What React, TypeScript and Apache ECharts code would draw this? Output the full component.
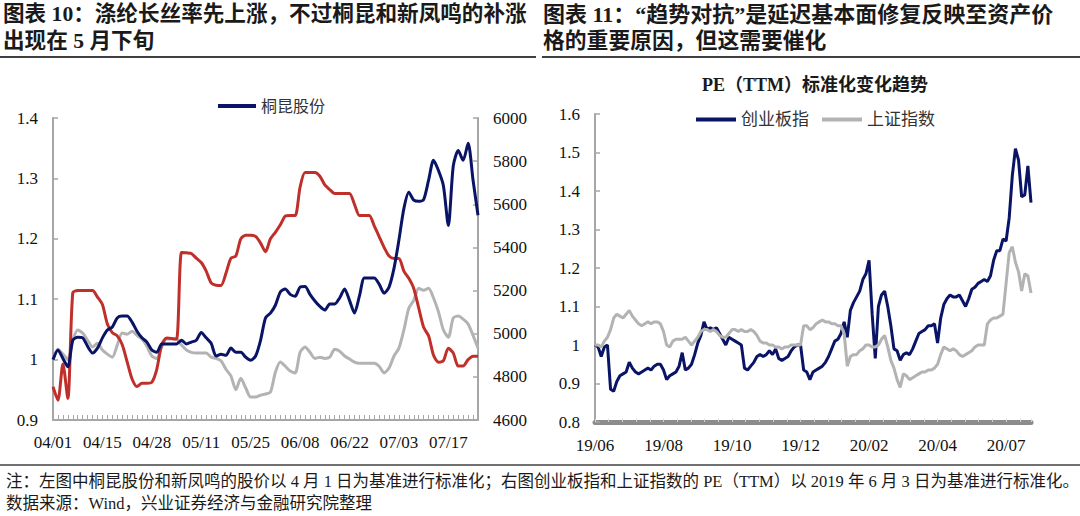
import React, { useEffect, useRef } from 'react';
import * as echarts from 'echarts';

// ---------- Left chart data (normalised to 04/01; polyester price on right axis) ----------
const leftXLabels = ['04/01', '04/15', '04/28', '05/11', '05/25', '06/08', '06/22', '07/03', '07/17'];

const tongkun = [
  1.000, 1.016, 1.002, 0.988, 1.032, 1.037, 1.036, 1.022, 1.011, 1.019,
  1.036, 1.049, 1.054, 1.069, 1.072, 1.072, 1.062, 1.047, 1.036, 1.029,
  1.016, 1.012, 1.026, 1.026, 1.026, 1.026, 1.032, 1.026, 1.029, 1.032,
  1.045, 1.036, 1.027, 1.006, 1.009, 1.007, 1.019, 1.012, 1.012, 1.004,
  0.999, 1.006, 1.032, 1.069, 1.077, 1.090, 1.112, 1.117, 1.108, 1.105,
  1.120, 1.121, 1.108, 1.097, 1.088, 1.082, 1.092, 1.092, 1.102, 1.117,
  1.098, 1.077, 1.105, 1.135, 1.135, 1.135, 1.125, 1.110, 1.120, 1.151,
  1.198, 1.250, 1.277, 1.264, 1.262, 1.265, 1.297, 1.330, 1.313, 1.288,
  1.222, 1.321, 1.346, 1.330, 1.358, 1.297, 1.239,
];

const xinfengming = [
  1.000, 1.017, 1.009, 1.000, 1.032, 1.049, 1.044, 1.032, 1.021, 1.027,
  1.016, 1.009, 1.004, 1.024, 1.044, 1.042, 1.047, 1.040, 1.034, 1.022,
  1.006, 1.002, 1.021, 1.034, 1.034, 1.034, 1.024, 1.016, 1.012, 1.011,
  1.011, 1.011, 1.004, 1.002, 0.998, 0.984, 0.973, 0.950, 0.969, 0.953,
  0.938, 0.938, 0.941, 0.943, 0.946, 0.979, 0.996, 0.989, 0.981, 0.978,
  1.012, 1.021, 1.012, 1.002, 1.004, 1.002, 1.004, 1.017, 1.014, 1.006,
  1.001, 0.996, 0.994, 0.994, 0.994, 0.994, 0.989, 0.978, 0.986, 1.006,
  1.019, 1.049, 1.085, 1.098, 1.118, 1.115, 1.118, 1.102, 1.079, 1.049,
  1.037, 1.069, 1.072, 1.067, 1.059, 1.040, 1.019,
];

const polyesterPrice = [
  4754, 4692, 4860, 4700, 5190, 5200, 5200, 5200, 5200, 5170,
  5135, 5045, 5005, 4990, 4950, 4870, 4790, 4755, 4770, 4770,
  4775, 4835, 4950, 4980, 4978, 4975, 5377, 5375, 5372, 5350,
  5330, 5290, 5236, 5225, 5224, 5280, 5350, 5360, 5440, 5456,
  5456, 5451, 5420, 5380, 5440, 5470, 5505, 5545, 5548, 5548,
  5680, 5747, 5747, 5747, 5730, 5690, 5668, 5650, 5650, 5650,
  5650, 5600, 5548, 5548, 5548, 5500, 5450, 5400, 5360, 5349,
  5349, 5290, 5257, 5210, 5120, 5030, 4990, 4900, 4868, 4875,
  4933, 4910, 4850, 4850, 4880, 4896, 4896,
];

// ---------- Right chart data (PE TTM normalised to 2019-06-03) ----------
const rightXLabels = ['19/06', '19/08', '19/10', '19/12', '20/02', '20/04', '20/07'];

const chinextPE = [
  1.00, 0.995, 0.97, 0.995, 1.0, 0.885, 0.88, 0.905, 0.92, 0.925,
  0.93, 0.955, 0.94, 0.93, 0.925, 0.93, 0.935, 0.94, 0.935, 0.945,
  0.95, 0.95, 0.935, 0.91, 0.92, 0.925, 0.93, 0.945, 0.98, 0.935,
  0.94, 0.95, 0.975, 1.005, 1.025, 1.06, 1.04, 1.045, 1.04, 1.045,
  1.03, 1.015, 1.0, 1.02, 1.015, 1.01, 1.005, 1.0, 0.94, 0.935,
  0.945, 0.955, 0.97, 0.975, 0.97, 0.975, 0.985, 0.975, 0.99, 0.965,
  0.96, 0.965, 0.97, 0.985, 0.995, 1.0, 1.0, 0.935, 0.93, 0.91,
  0.93, 0.935, 0.94, 0.945, 0.955, 0.97, 0.99, 1.01, 1.015, 1.03,
  1.06, 1.02, 1.09, 1.11, 1.125, 1.14, 1.17, 1.185, 1.22, 1.08,
  0.965, 1.10, 1.13, 1.14, 1.10, 1.05, 0.99, 0.985, 0.96, 0.975,
  0.98, 0.975, 0.99, 1.01, 1.03, 1.035, 1.04, 1.05, 1.05, 1.055,
  1.005, 1.07, 1.105, 1.12, 1.13, 1.125, 1.125, 1.13, 1.115, 1.10,
  1.12, 1.145, 1.15, 1.16, 1.165, 1.17, 1.165, 1.18, 1.22, 1.245,
  1.245, 1.275, 1.27, 1.33, 1.44, 1.51, 1.48, 1.385, 1.39, 1.465,
  1.37,
];

const ssePE = [
  1.0, 1.0, 0.995, 1.01, 1.02, 1.04, 1.07, 1.08, 1.075, 1.07,
  1.08, 1.09, 1.075, 1.065, 1.055, 1.05, 1.055, 1.06, 1.055, 1.06,
  1.06, 1.055, 1.035, 1.0, 0.995, 1.01, 1.015, 1.015, 1.015, 1.02,
  1.01, 1.0, 1.01, 1.02, 1.035, 1.04, 1.04, 1.035, 1.04, 1.035,
  1.025, 1.02, 1.02, 1.03, 1.04, 1.04, 1.035, 1.04, 1.035, 1.035,
  1.04, 1.035, 1.025, 1.01, 1.005, 1.005, 1.0, 1.0, 0.995, 0.995,
  0.99, 0.995, 0.995, 1.0, 1.0, 1.0, 1.0, 1.05, 1.05, 1.04,
  1.045, 1.055, 1.06, 1.065, 1.06, 1.06, 1.055, 1.055, 1.05, 1.05,
  1.03, 0.945, 0.97, 0.975, 0.975, 0.985, 0.99, 1.0, 1.0, 0.995,
  0.995, 1.0, 1.015, 1.025, 0.995, 0.96, 0.94, 0.91, 0.89, 0.925,
  0.92, 0.91, 0.915, 0.92, 0.925, 0.93, 0.93, 0.935, 0.935, 0.94,
  0.95, 0.975, 0.995, 0.99, 0.985, 0.99, 0.985, 0.975, 0.97, 0.975,
  0.98, 0.985, 0.995, 1.0, 1.0, 1.0, 1.055, 1.065, 1.07, 1.07,
  1.075, 1.08, 1.16, 1.24, 1.255, 1.215, 1.19, 1.14, 1.185, 1.18,
  1.135,
];

// ---------- Texts ----------
const leftTitle = ['图表 10：涤纶长丝率先上涨，不过桐昆和新凤鸣的补涨', '出现在 5 月下旬'];
const rightTitle = ['图表 11：“趋势对抗”是延迟基本面修复反映至资产价', '格的重要原因，但这需要催化'];
const rightSubtitle = 'PE（TTM）标准化变化趋势';
const noteLines = [
  '注：左图中桐昆股份和新凤鸣的股价以 4 月 1 日为基准进行标准化；右图创业板指和上证指数的 PE（TTM）以 2019 年 6 月 3 日为基准进行标准化。',
  '数据来源：Wind，兴业证券经济与金融研究院整理',
];

const FONT = "'Times New Roman', 'Liberation Serif', 'Noto Sans CJK SC', serif";
const AXIS_GRAY = '#a6a6a6';
const NAVY = '#0a1466';
const RED = '#c0302a';
const GRAY = '#b3b3b3';

const labelStyle = { fontSize: 17, color: '#111', fontFamily: FONT };

export default function App() {
  const ref = useRef<HTMLDivElement>(null);

  useEffect(() => {
    if (!ref.current) return;
    const chart = echarts.init(ref.current, undefined, { renderer: 'svg' });

    const yAxisCommon = (gridIndex: number, min: number, max: number, interval: number, position: string) => ({
      type: 'value',
      gridIndex,
      min,
      max,
      interval,
      position,
      axisLine: { show: true, lineStyle: { color: AXIS_GRAY, width: 2 } },
      axisTick: { show: true, inside: true, length: 5, lineStyle: { color: AXIS_GRAY, width: 1.5 } },
      splitLine: { show: false },
      axisLabel: { ...labelStyle, margin: 15, formatter: (v: number) => String(Math.round(v * 1000) / 1000) },
    });

    chart.setOption({
      animation: false,
      grid: [
        { left: 53, top: 118, width: 425, height: 302 },
        { left: 595, top: 114, width: 436, height: 308 },
      ],
      legend: [
        {
          data: ['桐昆股份'],
          left: 213,
          top: 93,
          icon: 'rect',
          itemWidth: 38,
          itemHeight: 4,
          textStyle: { fontSize: 16, color: '#333', fontFamily: FONT },
        },
        {
          data: ['创业板指', '上证指数'],
          left: 691,
          top: 106,
          icon: 'rect',
          itemWidth: 40,
          itemHeight: 4,
          itemGap: 13,
          textStyle: { fontSize: 17, color: '#333', fontFamily: FONT },
        },
      ],
      xAxis: [
        {
          type: 'value',
          gridIndex: 0,
          min: 0,
          max: tongkun.length - 1,
          interval: 10,
          axisLine: { lineStyle: { color: AXIS_GRAY, width: 2 } },
          axisTick: { show: true, inside: true, length: 5, lineStyle: { color: AXIS_GRAY, width: 1 } },
          minorTick: { show: true, splitNumber: 10, length: 5, lineStyle: { color: AXIS_GRAY, width: 1 } },
          splitLine: { show: false },
          axisLabel: {
            ...labelStyle,
            margin: 14,
            showMaxLabel: false,
            formatter: (v: number) => (v % 10 === 0 ? leftXLabels[v / 10] ?? '' : ''),
          },
        },
        {
          type: 'value',
          gridIndex: 1,
          min: 0,
          max: chinextPE.length - 1,
          interval: 22,
          axisLine: { lineStyle: { color: '#8c8c8c', width: 5 } },
          axisTick: { show: true, inside: true, length: 3, lineStyle: { color: '#d4d4d4', width: 1 } },
          minorTick: { show: true, splitNumber: 5, length: 3, lineStyle: { color: '#d4d4d4', width: 1 } },
          splitLine: { show: false },
          axisLabel: {
            ...labelStyle,
            margin: 15,
            showMaxLabel: false,
            formatter: (v: number) => (v % 22 === 0 ? rightXLabels[v / 22] ?? '' : ''),
          },
        },
      ],
      yAxis: [
        yAxisCommon(0, 0.9, 1.4, 0.1, 'left'),
        yAxisCommon(0, 4600, 6000, 200, 'right'),
        yAxisCommon(1, 0.8, 1.6, 0.1, 'left'),
      ],
      series: [
        {
          type: 'line', name: '新凤鸣', xAxisIndex: 0, yAxisIndex: 0,
          data: xinfengming.map((v, i) => [i, v]), symbol: 'none', smooth: 0.25,
          lineStyle: { color: GRAY, width: 3 }, itemStyle: { color: GRAY },
        },
        {
          type: 'line', name: '涤纶长丝', xAxisIndex: 0, yAxisIndex: 1,
          data: polyesterPrice.map((v, i) => [i, v]), symbol: 'none', smooth: 0.25,
          lineStyle: { color: RED, width: 3 }, itemStyle: { color: RED },
        },
        {
          type: 'line', name: '桐昆股份', xAxisIndex: 0, yAxisIndex: 0,
          data: tongkun.map((v, i) => [i, v]), symbol: 'none', smooth: 0.25,
          lineStyle: { color: NAVY, width: 3 }, itemStyle: { color: NAVY },
        },
        {
          type: 'line', name: '创业板指', xAxisIndex: 1, yAxisIndex: 2,
          data: chinextPE.map((v, i) => [i, v]), symbol: 'none',
          lineStyle: { color: NAVY, width: 3 }, itemStyle: { color: NAVY },
        },
        {
          type: 'line', name: '上证指数', xAxisIndex: 1, yAxisIndex: 2,
          data: ssePE.map((v, i) => [i, v]), symbol: 'none',
          lineStyle: { color: GRAY, width: 3 }, itemStyle: { color: GRAY },
        },
      ],
      graphic: [
        { type: 'text', x: 3, y: 14, style: { text: leftTitle[0], fontSize: 21.6, fontWeight: 'bold', fontFamily: FONT, fill: '#1a1a1a', verticalAlign: 'middle' } },
        { type: 'text', x: 3, y: 41, style: { text: leftTitle[1], fontSize: 21.6, fontWeight: 'bold', fontFamily: FONT, fill: '#1a1a1a', verticalAlign: 'middle' } },
        { type: 'text', x: 543, y: 14, style: { text: rightTitle[0], fontSize: 22, fontWeight: 'bold', fontFamily: FONT, fill: '#1a1a1a', verticalAlign: 'middle' } },
        { type: 'text', x: 543, y: 41, style: { text: rightTitle[1], fontSize: 21.8, fontWeight: 'bold', fontFamily: FONT, fill: '#1a1a1a', verticalAlign: 'middle' } },
        { type: 'line', shape: { x1: 0, y1: 57, x2: 536, y2: 57 }, style: { stroke: '#404040', lineWidth: 2 } },
        { type: 'line', shape: { x1: 542, y1: 57, x2: 1080, y2: 57 }, style: { stroke: '#404040', lineWidth: 2 } },
        { type: 'text', x: 815, y: 85, style: { text: rightSubtitle, fontSize: 18, fontWeight: 'bold', fontFamily: FONT, fill: '#1a1a1a', align: 'center', verticalAlign: 'middle' } },
        { type: 'line', shape: { x1: 0, y1: 465, x2: 1080, y2: 465 }, style: { stroke: '#404040', lineWidth: 1.5 } },
        { type: 'text', x: 6, y: 481, style: { text: noteLines[0], fontSize: 16.5, fontFamily: FONT, fill: '#1a1a1a', verticalAlign: 'middle' } },
        { type: 'text', x: 6, y: 503, style: { text: noteLines[1], fontSize: 16.5, fontFamily: FONT, fill: '#1a1a1a', verticalAlign: 'middle' } },
      ],
    });

    return () => chart.dispose();
  }, []);

  return <div ref={ref} style={{ position: 'absolute', left: 0, top: 0, width: 1080, height: 516, background: '#fff' }} />;
}
